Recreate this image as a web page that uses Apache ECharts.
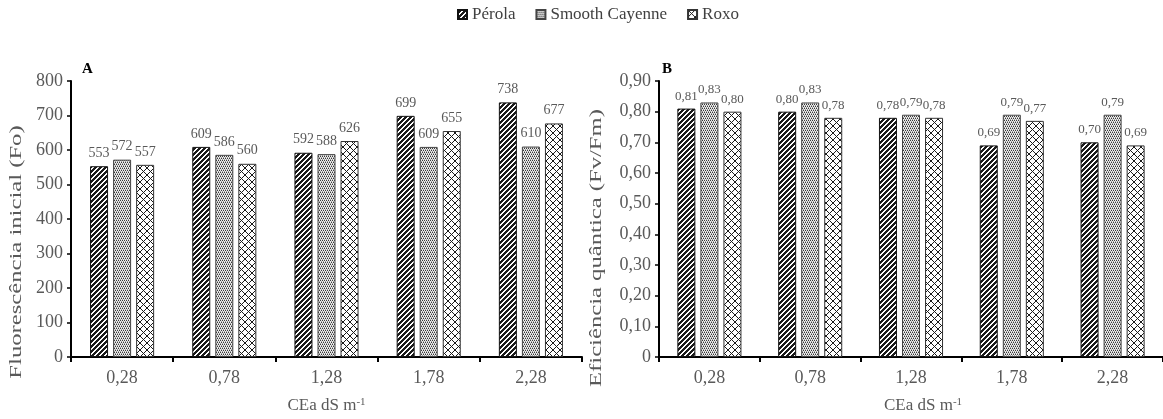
<!DOCTYPE html>
<html>
<head>
<meta charset="utf-8">
<script src="https://cdn.jsdelivr.net/npm/echarts@6/dist/echarts.min.js"></script>
<style>
html,body{margin:0;padding:0;background:#fff;}
#chart{width:1163px;height:419px;}
</style>
</head>
<body>
<div id="chart"></div>
<script>
// ---- data ----
const categories = ['0,28', '0,78', '1,28', '1,78', '2,28'];
const seriesNames = ['Pérola', 'Smooth Cayenne', 'Roxo'];
const foPerola = [553, 609, 592, 699, 738];
const foSmooth = [572, 586, 588, 609, 610];
const foRoxo = [557, 560, 626, 655, 677];
const fvPerola = [0.81, 0.80, 0.78, 0.69, 0.70];
const fvSmooth = [0.83, 0.83, 0.79, 0.79, 0.79];
const fvRoxo = [0.80, 0.78, 0.78, 0.77, 0.69];
const foAxisMax = 800, foAxisStep = 100;
const fvAxisMax = 0.9, fvAxisStep = 0.1;
const yNameA = 'Fluorescência inicial (Fo)';
const yNameB = 'Eficiência quântica (Fv/Fm)';

// ---- patterns ----
function pattern(kind) {
  const c = document.createElement('canvas');
  const ctx = c.getContext('2d');
  if (kind === 'diag') {
    const n = 5; c.width = c.height = n;
    ctx.fillStyle = '#1a1a1a'; ctx.fillRect(0, 0, n, n);
    ctx.fillStyle = '#ffffff';
    for (let i = 0; i < n; i++) { ctx.fillRect(i, n - 1 - i, 1, 1); ctx.fillRect((i + 1) % n, n - 1 - i, 1, 1); }
  } else if (kind === 'dots') {
    const n = 4; c.width = c.height = n;
    ctx.fillStyle = '#ececec'; ctx.fillRect(0, 0, n, n);
    ctx.fillStyle = '#3a3a3a';
    [[0,0],[2,0],[1,2],[3,2]].forEach(p => ctx.fillRect(p[0], p[1], 1, 1));
    ctx.fillStyle = '#a0a0a0';
    [[1,1],[3,1],[0,3],[2,3]].forEach(p => ctx.fillRect(p[0], p[1], 1, 1));
  } else {
    const n = 7; c.width = c.height = n;
    ctx.fillStyle = '#ffffff'; ctx.fillRect(0, 0, n, n);
    ctx.fillStyle = '#1a1a1a';
    for (let i = 0; i < n; i++) { ctx.fillRect(i, i, 1, 1); ctx.fillRect(i, n - 1 - i, 1, 1); }
  }
  return { image: c, repeat: 'repeat' };
}
const fills = [pattern('diag'), pattern('dots'), pattern('cross')];
const borders = ['#111', '#444', '#333'];

const FONT = 'Liberation Serif';
const GRAY = '#595959';

function fmtComma(v) { return v === 0 ? '0' : v.toFixed(2).replace('.', ','); }

function makeSeries(name, data, idx, gi, fmt, fs) {
  return {
    name: name, type: 'bar', xAxisIndex: gi, yAxisIndex: gi,
    data: data, barWidth: 18, barGap: '28%',
    itemStyle: { color: fills[idx], borderColor: borders[idx], borderWidth: 1 },
    label: {
      show: true, position: 'top', distance: 6,
      fontFamily: FONT, fontSize: fs, color: GRAY,
      formatter: p => fmt(p.value)
    }
  };
}

function xAxisDef(gi, pad) {
  return {
    type: 'category', gridIndex: gi, data: categories,
    axisLine: { lineStyle: { color: '#000', width: 2 } },
    axisTick: { show: true, length: 5, lineStyle: { color: '#000', width: 2 } },
    axisLabel: { fontFamily: FONT, fontSize: 18, color: GRAY, margin: 12 },
    name: '{a|CEa dS m}{s|-1}', nameLocation: 'middle', nameGap: 40,
    nameTextStyle: {
      padding: pad,
      rich: {
        a: { fontFamily: FONT, fontSize: 17, color: GRAY },
        s: { fontFamily: FONT, fontSize: 11, color: GRAY, verticalAlign: 'top' }
      }
    }
  };
}

function yAxisDef(gi, max, step, fmt) {
  return {
    type: 'value', gridIndex: gi, min: 0, max: max, interval: step,
    axisLine: { show: true, lineStyle: { color: '#000', width: 2 } },
    axisTick: { show: true, length: 4, lineStyle: { color: '#000', width: 1.5 } },
    splitLine: { show: false },
    axisLabel: { fontFamily: FONT, fontSize: 18, color: GRAY, margin: 8, formatter: fmt }
  };
}

const chart = echarts.init(document.getElementById('chart'), null, { renderer: 'canvas' });
chart.setOption({
  animation: false,
  backgroundColor: '#fff',
  legend: {
    data: seriesNames, left: 452, top: 1,
    icon: 'rect', itemWidth: 9, itemHeight: 9, itemGap: 20,
    textStyle: { fontFamily: FONT, fontSize: 17, color: '#404040' }
  },
  grid: [
    { left: 71, right: 581, top: 81, bottom: 61 },
    { left: 659, right: -8, top: 81, bottom: 61 }
  ],
  xAxis: [xAxisDef(0, [0, 0, 0, 0]), xAxisDef(1, [0, 0, 0, 24])],
  yAxis: [
    yAxisDef(0, foAxisMax, foAxisStep, v => String(v)),
    yAxisDef(1, fvAxisMax, fvAxisStep, v => fmtComma(v))
  ],
  series: [
    makeSeries(seriesNames[0], foPerola, 0, 0, v => String(v), 14),
    makeSeries(seriesNames[1], foSmooth, 1, 0, v => String(v), 14),
    makeSeries(seriesNames[2], foRoxo, 2, 0, v => String(v), 14),
    makeSeries(seriesNames[0], fvPerola, 0, 1, fmtComma, 13),
    makeSeries(seriesNames[1], fvSmooth, 1, 1, fmtComma, 13),
    makeSeries(seriesNames[2], fvRoxo, 2, 1, fmtComma, 13)
  ],
  graphic: [
    { type: 'text', x: 82, y: 62, style: { text: 'A', font: 'bold 15px "Liberation Serif"', fill: '#000' } },
    { type: 'text', x: 662, y: 62, style: { text: 'B', font: 'bold 15px "Liberation Serif"', fill: '#000' } },
    { type: 'text', x: 17, y: 252, rotation: Math.PI / 2, scaleX: 1.45,
      style: { text: yNameA, font: '17px "Liberation Serif"', fill: GRAY, align: 'center', verticalAlign: 'middle' } },
    { type: 'text', x: 597, y: 248, rotation: Math.PI / 2, scaleX: 1.45,
      style: { text: yNameB, font: '17px "Liberation Serif"', fill: GRAY, align: 'center', verticalAlign: 'middle' } }
  ]
});
</script>
</body>
</html>
